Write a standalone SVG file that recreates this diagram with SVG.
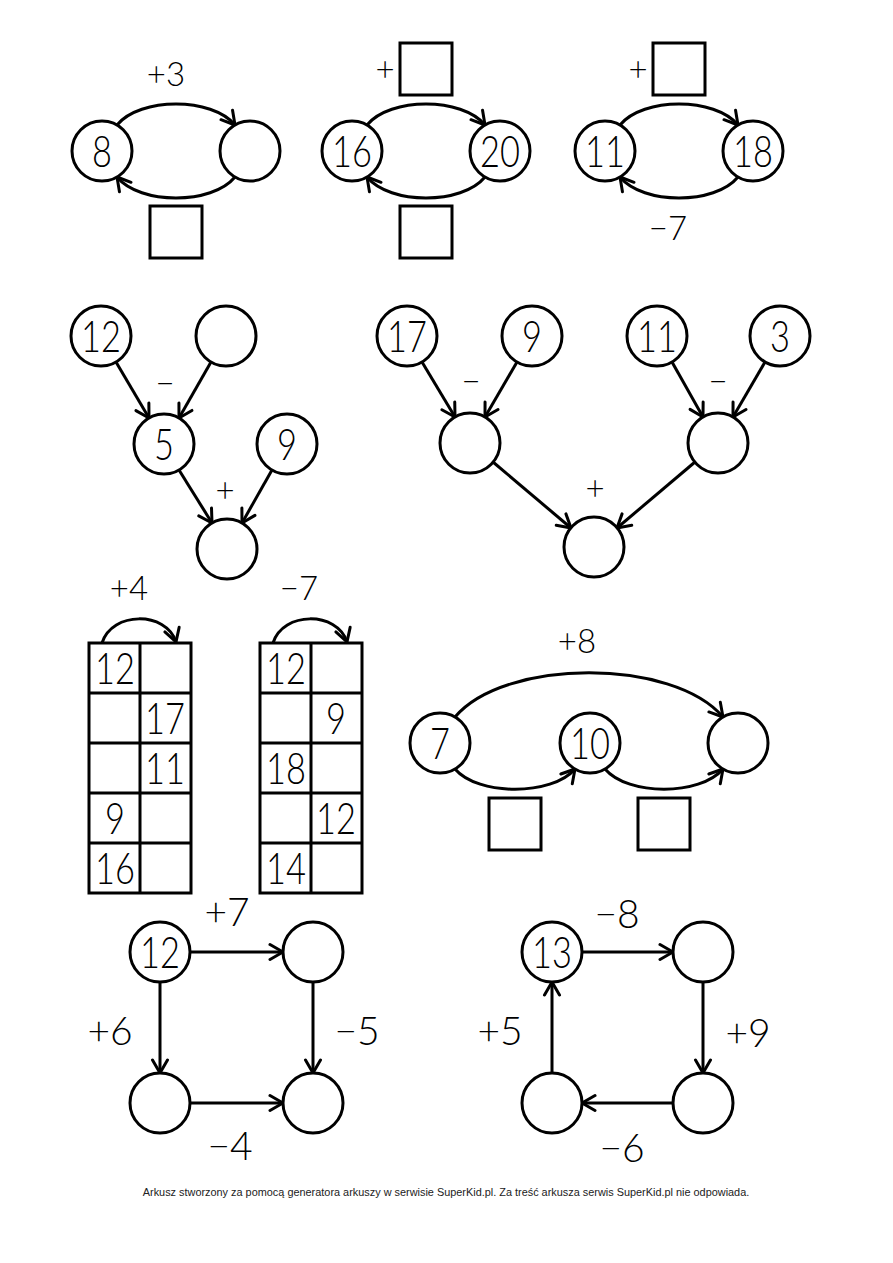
<svg xmlns="http://www.w3.org/2000/svg" width="893" height="1263" viewBox="0 0 893 1263">
<style>
.c{fill:#fff;stroke:#000;stroke-width:3}
.sq{fill:#fff;stroke:#000;stroke-width:3}
.g{fill:none;stroke:#000;stroke-width:3}
.e{fill:none;stroke:#000;stroke-width:3;marker-end:url(#ah)}
.n{font-family:Lato,"Liberation Sans",sans-serif;font-weight:300;font-size:43px;text-anchor:middle;fill:#000;transform-box:fill-box;transform-origin:center;transform:scaleX(0.8)}
.lb{font-family:Lato,"Liberation Sans",sans-serif;font-weight:300;font-size:33px;text-anchor:middle;fill:#000}
.lg{font-family:Lato,"Liberation Sans",sans-serif;font-weight:300;font-size:39px;text-anchor:middle;fill:#000}
.ft{font-family:"Liberation Sans",Arial,sans-serif;font-size:10.9px;text-anchor:middle;fill:#222}
</style>
<defs>
<marker id="ah" markerUnits="userSpaceOnUse" markerWidth="20" markerHeight="20" viewBox="0 0 20 20" refX="15" refY="10" orient="auto">
<path d="M2,2.5 L15,10 L2,17.5" fill="none" stroke="#000" stroke-width="3" stroke-linecap="round" stroke-linejoin="round"/>
</marker>
</defs>
<rect width="893" height="1263" fill="#fff"/>

<g id="connectors">
<path class="e" d="M117,125 C140,97 212,97 235,125"/>
<path class="e" d="M235,177 C212,205 140,205 117,177"/>
<path class="e" d="M367,125 C390,97 462,97 485,125"/>
<path class="e" d="M485,177 C462,205 390,205 367,177"/>
<path class="e" d="M620,125 C643,97 715,97 738,125"/>
<path class="e" d="M738,177 C715,205 643,205 620,177"/>
<line class="e" x1="116" y1="362" x2="149" y2="418"/>
<line class="e" x1="211" y1="362" x2="179" y2="418"/>
<line class="e" x1="179" y1="470" x2="212" y2="523"/>
<line class="e" x1="272" y1="470" x2="242" y2="523"/>
<line class="e" x1="422" y1="362" x2="455" y2="417"/>
<line class="e" x1="517" y1="362" x2="485" y2="417"/>
<line class="e" x1="672" y1="362" x2="703" y2="417"/>
<line class="e" x1="765" y1="362" x2="733" y2="417"/>
<line class="e" x1="493" y1="462" x2="571" y2="528"/>
<line class="e" x1="695" y1="462" x2="617" y2="528"/>
<path class="e" d="M102,643 C112,611 166,611 176,642"/>
<path class="e" d="M273,643 C283,611 337,611 347,642"/>
<path class="e" d="M455,717 C505,658 673,658 723,717"/>
<path class="e" d="M455,769 C478,796 552,796 575,769"/>
<path class="e" d="M605,769 C628,796 700,796 723,769"/>
<line class="e" x1="190" y1="952" x2="283" y2="952"/>
<line class="e" x1="160" y1="982" x2="160" y2="1073"/>
<line class="e" x1="313" y1="982" x2="313" y2="1073"/>
<line class="e" x1="190" y1="1103" x2="283" y2="1103"/>
<line class="e" x1="582" y1="952" x2="673" y2="952"/>
<line class="e" x1="703" y1="982" x2="703" y2="1073"/>
<line class="e" x1="673" y1="1103" x2="582" y2="1103"/>
<line class="e" x1="552" y1="1073" x2="552" y2="982"/>
</g>

<g id="labels">
<text class="lb" x="166" y="86">+3</text>
<text class="lb" x="385" y="81">+</text>
<text class="lb" x="638" y="81">+</text>
<text class="lb" x="668" y="240">−7</text>
<text class="lb" x="165" y="395">−</text>
<text class="lb" x="225" y="502">+</text>
<text class="lb" x="471" y="393">−</text>
<text class="lb" x="718" y="393">−</text>
<text class="lb" x="595" y="500">+</text>
<text class="lb" x="129" y="600">+4</text>
<text class="lb" x="299" y="600">−7</text>
<text class="lb" x="577" y="653">+8</text>
<text class="lg" x="227" y="926">+7</text>
<text class="lg" x="110" y="1045">+6</text>
<text class="lg" x="357" y="1045">−5</text>
<text class="lg" x="230" y="1160">−4</text>
<text class="lg" x="617" y="928">−8</text>
<text class="lg" x="748" y="1047">+9</text>
<text class="lg" x="622" y="1162">−6</text>
<text class="lg" x="500" y="1045">+5</text>
</g>

<g id="n1a"><circle class="c" cx="102" cy="151" r="30"/><text class="n" x="102" y="167">8</text></g>
<g id="n1b"><circle class="c" cx="250" cy="151" r="30"/></g>
<g id="s1"><rect class="sq" x="150" y="206" width="52" height="52"/></g>
<g id="n2a"><circle class="c" cx="352" cy="151" r="30"/><text class="n" x="352" y="167">16</text></g>
<g id="n2b"><circle class="c" cx="500" cy="151" r="30"/><text class="n" x="500" y="167">20</text></g>
<g id="s2t"><rect class="sq" x="400" y="43" width="52" height="52"/></g>
<g id="s2b"><rect class="sq" x="400" y="206" width="52" height="52"/></g>
<g id="n3a"><circle class="c" cx="605" cy="151" r="30"/><text class="n" x="605" y="167">11</text></g>
<g id="n3b"><circle class="c" cx="753" cy="151" r="30"/><text class="n" x="753" y="167">18</text></g>
<g id="s3t"><rect class="sq" x="653" y="43" width="52" height="52"/></g>

<g id="t1a"><circle class="c" cx="101" cy="336" r="30"/><text class="n" x="101" y="352">12</text></g>
<g id="t1b"><circle class="c" cx="226" cy="336" r="30"/></g>
<g id="t1c"><circle class="c" cx="164" cy="444" r="30"/><text class="n" x="164" y="460">5</text></g>
<g id="t1d"><circle class="c" cx="287" cy="444" r="30"/><text class="n" x="287" y="460">9</text></g>
<g id="t1e"><circle class="c" cx="227" cy="549" r="30"/></g>

<g id="t2a"><circle class="c" cx="407" cy="336" r="30"/><text class="n" x="407" y="352">17</text></g>
<g id="t2b"><circle class="c" cx="532" cy="336" r="30"/><text class="n" x="532" y="352">9</text></g>
<g id="t2c"><circle class="c" cx="657" cy="336" r="30"/><text class="n" x="657" y="352">11</text></g>
<g id="t2d"><circle class="c" cx="780" cy="336" r="30"/><text class="n" x="780" y="352">3</text></g>
<g id="t2e"><circle class="c" cx="470" cy="443" r="30"/></g>
<g id="t2f"><circle class="c" cx="718" cy="443" r="30"/></g>
<g id="t2g"><circle class="c" cx="594" cy="547" r="30"/></g>

<g id="grid1">
<rect class="g" x="89" y="643" width="102" height="250"/>
<path class="g" d="M140,643 V893 M89,693 H191 M89,743 H191 M89,793 H191 M89,843 H191"/>
<text class="n" x="115" y="684">12</text>
<text class="n" x="165" y="734">17</text>
<text class="n" x="165" y="784">11</text>
<text class="n" x="115" y="834">9</text>
<text class="n" x="115" y="884">16</text>
</g>
<g id="grid2">
<rect class="g" x="260" y="643" width="102" height="250"/>
<path class="g" d="M311,643 V893 M260,693 H362 M260,743 H362 M260,793 H362 M260,843 H362"/>
<text class="n" x="286" y="684">12</text>
<text class="n" x="336" y="734">9</text>
<text class="n" x="286" y="784">18</text>
<text class="n" x="336" y="834">12</text>
<text class="n" x="286" y="884">14</text>
</g>

<g id="ch1"><circle class="c" cx="440" cy="743" r="30"/><text class="n" x="440" y="759">7</text></g>
<g id="ch2"><circle class="c" cx="590" cy="743" r="30"/><text class="n" x="590" y="759">10</text></g>
<g id="ch3"><circle class="c" cx="738" cy="743" r="30"/></g>
<g id="chs1"><rect class="sq" x="489" y="798" width="52" height="52"/></g>
<g id="chs2"><rect class="sq" x="638" y="798" width="52" height="52"/></g>

<g id="q1a"><circle class="c" cx="160" cy="952" r="30"/><text class="n" x="160" y="968">12</text></g>
<g id="q1b"><circle class="c" cx="313" cy="952" r="30"/></g>
<g id="q1c"><circle class="c" cx="160" cy="1103" r="30"/></g>
<g id="q1d"><circle class="c" cx="313" cy="1103" r="30"/></g>

<g id="q2a"><circle class="c" cx="552" cy="952" r="30"/><text class="n" x="552" y="968">13</text></g>
<g id="q2b"><circle class="c" cx="703" cy="952" r="30"/></g>
<g id="q2c"><circle class="c" cx="552" cy="1103" r="30"/></g>
<g id="q2d"><circle class="c" cx="703" cy="1103" r="30"/></g>

<text class="ft" x="446" y="1196">Arkusz stworzony za pomocą generatora arkuszy w serwisie SuperKid.pl. Za treść arkusza serwis SuperKid.pl nie odpowiada.</text>
</svg>
